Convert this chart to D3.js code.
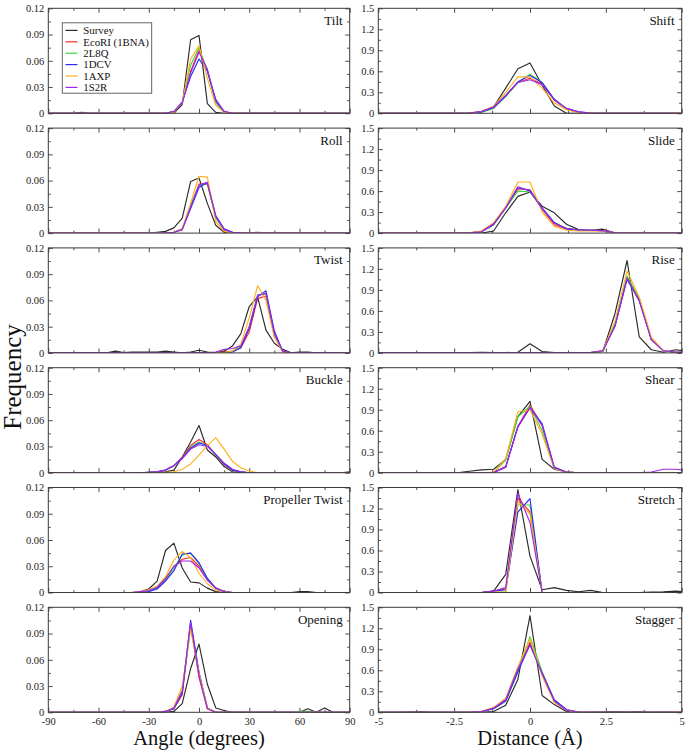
<!DOCTYPE html>
<html><head><meta charset="utf-8">
<script src="https://cdn.jsdelivr.net/npm/d3@7"></script>
<style>body{margin:0;background:#fff}svg{display:block}</style>
</head><body><svg id="c" width="687" height="750"></svg>
<script>
const seriesNames = ["Survey","EcoRI (1BNA)","2L8Q","1DCV","1AXP","1S2R"];
const seriesColors = ["#2a2a2a","#ff2a2a","#3ed83e","#2a2aff","#ffb020","#a028e8"];

const angleTicks = [-90,-60,-30,0,30,60,90];
const angleMinor = [-75,-45,-15,15,45,75];
const distTicks = [-5,-2.5,0,2.5,5];
const distMinor = [-3.75,-1.25,1.25,3.75];
const angleFreqTicks = [0,0.03,0.06,0.09,0.12];
const angleFreqMinor = [0.015,0.045,0.075,0.105];
const distFreqTicks = [0,0.3,0.6,0.9,1.2,1.5];
const distFreqMinor = [0.15,0.45,0.75,1.05,1.35];

// ---- angle panels ----
const tiltX = [-90,-75,-70,-65,-20,-15,-10,-5,0,5,10,15,20,90];
const tilt = [
 [0,0,0.001,0,0,0,0.010,0.084,0.089,0.011,0.001,0,0,0],
 [0,0,0,0,0,0.002,0.012,0.048,0.072,0.050,0.013,0.002,0,0],
 [0,0,0,0,0,0.002,0.012,0.055,0.075,0.048,0.012,0.001,0,0],
 [0,0,0,0,0,0.002,0.013,0.042,0.062,0.048,0.016,0.002,0,0],
 [0,0,0,0,0,0.001,0.012,0.062,0.077,0.040,0.009,0.001,0,0],
 [0,0,0,0,0,0.002,0.012,0.046,0.070,0.050,0.014,0.002,0,0]
];
const rollX = [-90,-35,-30,-25,-20,-15,-10,-5,0,5,10,15,20,25,30,35,40,90];
const roll = [
 [0,0,0,0.001,0.002,0.006,0.017,0.059,0.063,0.034,0.009,0.001,0,0,0,0.001,0,0],
 [0,0,0,0,0,0.001,0.005,0.030,0.056,0.056,0.018,0.004,0.001,0,0,0,0,0],
 [0,0,0.001,0,0,0.001,0.005,0.032,0.054,0.057,0.017,0.004,0.001,0,0,0,0,0],
 [0,0,0,0,0,0.001,0.004,0.028,0.052,0.058,0.020,0.005,0.001,0,0,0,0,0],
 [0,0,0,0,0,0.001,0.005,0.034,0.065,0.064,0.013,0.002,0,0,0,0,0,0],
 [0,0,0,0,0,0.001,0.004,0.030,0.055,0.058,0.019,0.004,0.001,0,0,0,0,0]
];
const twistX = [-90,-55,-50,-45,-40,-35,-30,-25,-20,-15,-10,-5,0,5,10,15,20,25,30,35,40,45,50,55,60,65,70,90];
const twist = [
 [0,0,0.002,0.0005,0.001,0.001,0.001,0.001,0.002,0.001,0,0.001,0.003,0.001,0,0.002,0.008,0.022,0.053,0.064,0.026,0.011,0.004,0,0.001,0.001,0,0],
 [0,0,0,0,0,0,0,0,0,0,0,0,0,0,0,0.001,0.002,0.006,0.024,0.062,0.065,0.020,0.001,0,0,0,0,0],
 [0,0,0,0,0,0,0,0,0,0,0,0,0,0,0,0,0.002,0.007,0.030,0.066,0.067,0.022,0.002,0,0,0,0,0],
 [0,0,0,0,0,0,0,0,0,0,0,0,0,0,0,0,0.001,0.006,0.028,0.064,0.071,0.025,0.002,0,0,0,0,0],
 [0,0,0,0,0,0,0,0,0,0,0,0,0,0,0,0,0.002,0.010,0.040,0.077,0.060,0.018,0.001,0,0,0,0,0],
 [0,0,0,0,0,0,0,0,0,0,0,0,0,0,0.001,0.004,0.005,0.008,0.030,0.066,0.068,0.022,0.002,0,0,0,0,0]
];
const buckleX = [-90,-35,-30,-25,-20,-15,-10,-5,0,5,10,15,20,25,30,35,40,85,90];
const buckle = [
 [0,0,0,0,0.001,0.003,0.018,0.035,0.054,0.026,0.018,0.007,0.001,0,0,0,0,0,0.001],
 [0,0,0.0005,0.001,0.003,0.008,0.018,0.031,0.038,0.032,0.020,0.009,0.003,0.001,0,0,0,0,0],
 [0,0,0.0005,0.001,0.003,0.008,0.017,0.029,0.035,0.031,0.020,0.010,0.003,0.001,0,0,0,0,0],
 [0,0,0.0005,0.001,0.003,0.008,0.017,0.028,0.034,0.031,0.021,0.010,0.003,0.001,0,0,0,0,0],
 [0,0,0,0,0.0005,0.001,0.004,0.010,0.020,0.031,0.040,0.027,0.013,0.0056,0.002,0,0,0,0],
 [0,0,0.0005,0.001,0.003,0.008,0.016,0.027,0.032,0.030,0.021,0.011,0.004,0.001,0,0,0,0,0]
];
const propX = [-90,-40,-35,-30,-25,-20,-15,-10,-5,0,5,10,15,20,25,55,60,65,70,90];
const propeller = [
 [0,0,0.001,0.004,0.013,0.048,0.0565,0.028,0.012,0.011,0.005,0.001,0,0,0,0,0.001,0.001,0,0],
 [0,0,0.0005,0.002,0.006,0.015,0.030,0.038,0.040,0.030,0.015,0.005,0.001,0,0,0,0,0,0,0],
 [0,0,0.0005,0.002,0.005,0.014,0.028,0.043,0.045,0.033,0.016,0.005,0.001,0,0,0,0,0,0,0],
 [0,0,0,0.001,0.004,0.013,0.025,0.044,0.045,0.034,0.016,0.005,0.001,0,0,0,0,0,0,0],
 [0,0,0.001,0.003,0.007,0.018,0.037,0.047,0.040,0.022,0.010,0.003,0.001,0,0,0,0,0,0,0],
 [0,0,0.001,0.002,0.006,0.016,0.030,0.036,0.036,0.028,0.014,0.005,0.001,0,0,0,0,0,0,0]
];
const openX = [-90,-30,-25,-20,-15,-10,-5,0,5,10,15,20,55,60,65,70,75,80,90];
const opening = [
 [0,0,0,0,0.001,0.010,0.050,0.078,0.032,0.005,0.002,0,0,0,0.004,0,0.005,0,0],
 [0,0,0,0.001,0.004,0.020,0.100,0.040,0.004,0,0,0,0,0,0,0,0,0,0],
 [0,0,0,0.001,0.005,0.025,0.097,0.045,0.005,0,0,0,0,0.001,0.001,0,0,0,0],
 [0,0,0,0.001,0.004,0.022,0.105,0.046,0.005,0,0,0,0,0,0,0,0,0,0],
 [0,0,0,0.001,0.006,0.030,0.095,0.045,0.005,0,0,0,0,0,0,0,0,0,0],
 [0,0,0,0.001,0.005,0.024,0.103,0.042,0.004,0,0,0,0,0,0,0,0,0,0]
];

// ---- distance panels ----
const distX = [-5.2,-4.8,-4.4,-4.0,-3.6,-3.2,-2.8,-2.4,-2.0,-1.6,-1.2,-0.8,-0.4,0,0.4,0.8,1.2,1.6,2.0,2.4,2.8,3.2,3.6,4.0,4.4,4.8,5.2];
const shift = [
 [0,0,0,0,0,0,0,0,0,0.02,0.094,0.36,0.637,0.72,0.40,0.104,0,0,0,0,0,0,0,0,0,0,0],
 [0,0,0,0,0,0,0,0,0.005,0.02,0.08,0.25,0.44,0.50,0.42,0.19,0.06,0.015,0.003,0,0,0,0,0,0,0,0],
 [0,0,0,0,0,0,0,0,0.003,0.015,0.07,0.24,0.44,0.56,0.44,0.20,0.06,0.015,0.003,0,0,0,0,0,0,0,0],
 [0,0,0,0,0,0,0,0,0.004,0.02,0.08,0.25,0.45,0.54,0.44,0.20,0.07,0.02,0.004,0,0,0,0,0,0,0,0],
 [0,0,0,0,0,0,0,0,0.005,0.03,0.10,0.30,0.52,0.52,0.36,0.15,0.05,0.01,0.002,0,0,0,0,0,0,0,0],
 [0,0,0,0,0,0,0,0,0.005,0.03,0.09,0.26,0.44,0.48,0.41,0.19,0.07,0.02,0.004,0,0,0,0,0,0,0,0]
];
const slide = [
 [0,0,0,0,0,0,0,0,0,0,0.03,0.29,0.525,0.586,0.384,0.29,0.127,0.05,0.04,0.056,0.005,0,0,0.005,0,0,0.01],
 [0,0,0,0,0,0,0,0,0.005,0.025,0.14,0.37,0.63,0.62,0.34,0.12,0.06,0.045,0.04,0.035,0.005,0,0,0,0,0,0],
 [0,0,0,0,0,0,0,0,0.003,0.02,0.12,0.36,0.60,0.59,0.35,0.15,0.07,0.045,0.04,0.035,0.005,0,0,0,0,0,0],
 [0,0,0,0,0,0,0,0,0.003,0.02,0.12,0.36,0.65,0.61,0.36,0.15,0.06,0.045,0.04,0.03,0.005,0,0,0,0,0,0],
 [0,0,0,0,0,0,0,0,0.005,0.03,0.15,0.38,0.73,0.73,0.30,0.10,0.04,0.03,0.03,0.03,0.003,0,0,0,0,0,0],
 [0,0,0,0,0,0,0,0,0.004,0.02,0.13,0.36,0.66,0.60,0.35,0.14,0.07,0.045,0.04,0.035,0.005,0,0,0,0,0,0]
];
const rise = [
 [0,0,0,0,0,0,0,0,0.005,0.01,0.005,0.005,0.01,0.13,0.02,0.005,0.005,0.005,0.005,0.02,0.56,1.32,0.23,0.045,0.01,0.045,0.02],
 [0,0,0,0,0,0,0,0,0,0,0,0,0,0,0,0,0,0,0.005,0.03,0.40,1.08,0.76,0.19,0.03,0.01,0.01],
 [0,0,0,0,0,0,0,0,0,0,0,0,0,0,0,0,0,0,0.005,0.02,0.42,1.10,0.78,0.20,0.03,0.01,0.005],
 [0,0,0,0,0,0,0,0,0,0,0,0,0,0,0,0,0,0,0.005,0.03,0.38,1.05,0.75,0.19,0.03,0.01,0.005],
 [0,0,0,0,0,0,0,0,0,0,0,0,0,0,0,0,0,0,0.005,0.03,0.45,1.17,0.80,0.22,0.03,0.005,0.005],
 [0,0,0,0,0,0,0,0,0,0,0,0,0,0,0,0,0,0,0.005,0.03,0.38,1.07,0.74,0.19,0.03,0.01,0.005]
];
const shear = [
 [0,0,0,0,0,0,0,0,0.02,0.04,0.05,0.19,0.80,1.02,0.19,0.05,0.01,0,0,0,0,0,0,0,0,0,0],
 [0,0,0,0,0,0,0,0,0,0,0.005,0.09,0.66,0.97,0.67,0.07,0.01,0,0,0,0,0,0,0,0,0,0],
 [0,0,0,0,0,0,0,0,0,0,0.005,0.18,0.80,0.95,0.60,0.06,0.01,0,0,0,0,0,0,0,0,0,0],
 [0,0,0,0,0,0,0,0,0,0,0.003,0.08,0.66,0.93,0.70,0.08,0.01,0,0,0,0,0,0,0,0,0,0],
 [0,0,0,0,0,0,0,0,0,0,0.01,0.20,0.87,0.90,0.55,0.06,0.01,0,0,0,0,0,0,0,0,0,0],
 [0,0,0,0,0,0,0,0,0,0,0.003,0.08,0.65,0.93,0.68,0.07,0.01,0,0,0,0,0,0,0.01,0.05,0.05,0.03]
];
const stretch = [
 [0,0,0,0,0,0,0,0,0,0,0.02,0.26,1.47,0.52,0.04,0.07,0.03,0.01,0.03,0,0,0,0,0.005,0.01,0.02,0.01],
 [0,0,0,0,0,0,0,0,0,0,0.02,0.05,1.35,1.15,0,0,0,0,0,0,0,0,0,0,0,0,0],
 [0,0,0,0,0,0,0,0,0,0,0.005,0.01,1.25,1.25,0,0,0,0,0,0,0,0,0,0,0,0,0],
 [0,0,0,0,0,0,0,0,0,0,0.02,0.04,1.15,1.34,0,0,0,0,0,0,0,0,0,0,0,0,0],
 [0,0,0,0,0,0,0,0,0,0,0.005,0.01,1.30,1.12,0,0,0,0,0,0,0,0,0,0,0,0,0],
 [0,0,0,0,0,0,0,0,0,0,0.02,0.07,1.42,1.00,0,0,0,0,0,0,0,0,0,0,0,0,0]
];
const stagger = [
 [0,0,0,0.005,0.01,0,0,0,0,0,0.01,0.10,0.47,1.38,0.24,0.11,0.01,0,0,0.005,0.01,0.005,0.01,0,0.005,0,0],
 [0,0,0,0,0,0,0,0,0,0.01,0.06,0.18,0.60,1.00,0.55,0.16,0.03,0.005,0,0,0,0,0,0,0,0,0],
 [0,0,0,0,0,0,0,0,0,0.01,0.05,0.16,0.58,1.08,0.58,0.17,0.03,0.005,0,0,0,0,0,0,0,0,0],
 [0,0,0,0,0,0,0,0,0,0.01,0.05,0.16,0.58,0.97,0.56,0.18,0.04,0.005,0,0,0,0,0,0,0,0,0],
 [0,0,0,0,0,0,0,0,0,0.01,0.07,0.20,0.65,1.05,0.52,0.14,0.03,0.005,0,0,0,0,0,0,0,0,0],
 [0,0,0,0,0,0,0,0,0,0.01,0.06,0.18,0.62,0.96,0.55,0.16,0.03,0.005,0,0,0,0,0,0,0,0,0]
];

const leftPanels = [["Tilt",tiltX,tilt],["Roll",rollX,roll],["Twist",twistX,twist],["Buckle",buckleX,buckle],["Propeller Twist",propX,propeller],["Opening",openX,opening]];
const rightPanels = [["Shift",distX,shift],["Slide",distX,slide],["Rise",distX,rise],["Shear",distX,shear],["Stretch",distX,stretch],["Stagger",distX,stagger]];

// ---- layout ----
const svg = d3.select("#c");
const FONT = "'Liberation Serif','Times New Roman',serif";
const cols = [{x0:48.3,x1:349.7},{x0:378.3,x1:681.7}];
const top0 = 8.3, pitch = 119.8, ph = 105;
const frameColor = "#3a3a3a";

function drawPanel(col, row, label, xs, ys, isAngle){
  const c = cols[col];
  const y0 = top0 + row*pitch, y1 = y0 + ph;
  const x = d3.scaleLinear().domain(isAngle?[-90,90]:[-5,5]).range([c.x0,c.x1]);
  const y = d3.scaleLinear().domain(isAngle?[0,0.12]:[0,1.5]).range([y1,y0]);
  const g = svg.append("g");
  const cid = "clip"+col+"_"+row;
  g.append("clipPath").attr("id",cid).append("rect")
    .attr("x",c.x0).attr("y",y0-2).attr("width",c.x1-c.x0).attr("height",ph+2);
  const majX = isAngle?angleTicks:distTicks, minX = isAngle?angleMinor:distMinor;
  const majY = isAngle?angleFreqTicks:distFreqTicks, minY = isAngle?angleFreqMinor:distFreqMinor;
  const yfmt = d => d===0?"0":(isAngle?d3.format(".2f")(d):d3.format(".1f")(d));
  const xfmt = d => d===0?"0":String(d);
  const last = row===5;
  function ax(gen, tr, vals, size, labels, fmt){
    const a = gen.tickValues(vals).tickSizeInner(size).tickSizeOuter(0).tickPadding(labels?4:0)
      .tickFormat(labels?fmt:()=> "");
    const s = g.append("g").attr("transform",tr).call(a);
    s.attr("font-family",FONT);
    s.select(".domain").remove();
    s.selectAll(".tick line").attr("stroke",frameColor).attr("stroke-width",0.9);
    s.selectAll("text").attr("font-family",FONT).attr("font-size",10.5).attr("fill","#222");
    return s;
  }
  ax(d3.axisLeft(y), `translate(${c.x0},0)`, majY, -4.5, true, yfmt);
  ax(d3.axisLeft(y), `translate(${c.x0},0)`, minY, -2.5, false);
  ax(d3.axisRight(y), `translate(${c.x1},0)`, majY, -4.5, false);
  ax(d3.axisRight(y), `translate(${c.x1},0)`, minY, -2.5, false);
  const bx = ax(d3.axisBottom(x), `translate(0,${y1})`, majX, -4.5, last, xfmt);
  if(last) bx.selectAll("text").attr("dy","0.85em");
  ax(d3.axisBottom(x), `translate(0,${y1})`, minX, -2.5, false);
  ax(d3.axisTop(x), `translate(0,${y0})`, majX, -4.5, false);
  ax(d3.axisTop(x), `translate(0,${y0})`, minX, -2.5, false);

  const line = d3.line().x((d,i)=>x(xs[i])).y(d=>y(d));
  const lg = g.append("g").attr("clip-path",`url(#${cid})`);
  ys.forEach((vals,si)=>{
    lg.append("path").attr("d",line(vals)).attr("fill","none")
      .attr("stroke",seriesColors[si]).attr("stroke-width",1.15).attr("stroke-linejoin","round");
  });
  g.append("rect").attr("x",c.x0).attr("y",y0).attr("width",c.x1-c.x0).attr("height",ph)
    .attr("fill","none").attr("stroke",frameColor).attr("stroke-width",1);
  g.append("text").attr("x",c.x1-7).attr("y",y0+16.5).attr("text-anchor","end")
    .attr("font-family",FONT).attr("font-size",13).attr("fill","#111").text(label);
}
leftPanels.forEach((p,i)=>drawPanel(0,i,p[0],p[1],p[2],true));
rightPanels.forEach((p,i)=>drawPanel(1,i,p[0],p[1],p[2],false));

// legend
const leg = svg.append("g");
leg.append("rect").attr("x",62.3).attr("y",22.8).attr("width",89.4).attr("height",70.4)
  .attr("fill","#fff").attr("stroke","#555").attr("stroke-width",0.9);
seriesNames.forEach((n,i)=>{
  const yy = 30.4 + i*11.4;
  leg.append("line").attr("x1",65.5).attr("x2",77.5).attr("y1",yy).attr("y2",yy)
    .attr("stroke",seriesColors[i]).attr("stroke-width",1.2);
  leg.append("text").attr("x",83.3).attr("y",yy+3.8).attr("font-family",FONT)
    .attr("font-size",10.8).attr("fill","#111").text(n);
});

// axis titles
svg.append("text").attr("x",199).attr("y",745).attr("text-anchor","middle")
  .attr("font-family",FONT).attr("font-size",20.5).attr("fill","#111").text("Angle (degrees)");
svg.append("text").attr("x",530).attr("y",745).attr("text-anchor","middle")
  .attr("font-family",FONT).attr("font-size",20.5).attr("fill","#111").text("Distance (Å)");
svg.append("text").attr("transform","translate(21,377) rotate(-90)").attr("text-anchor","middle")
  .attr("font-family",FONT).attr("font-size",25).attr("fill","#111").text("Frequency");
</script></body></html>
